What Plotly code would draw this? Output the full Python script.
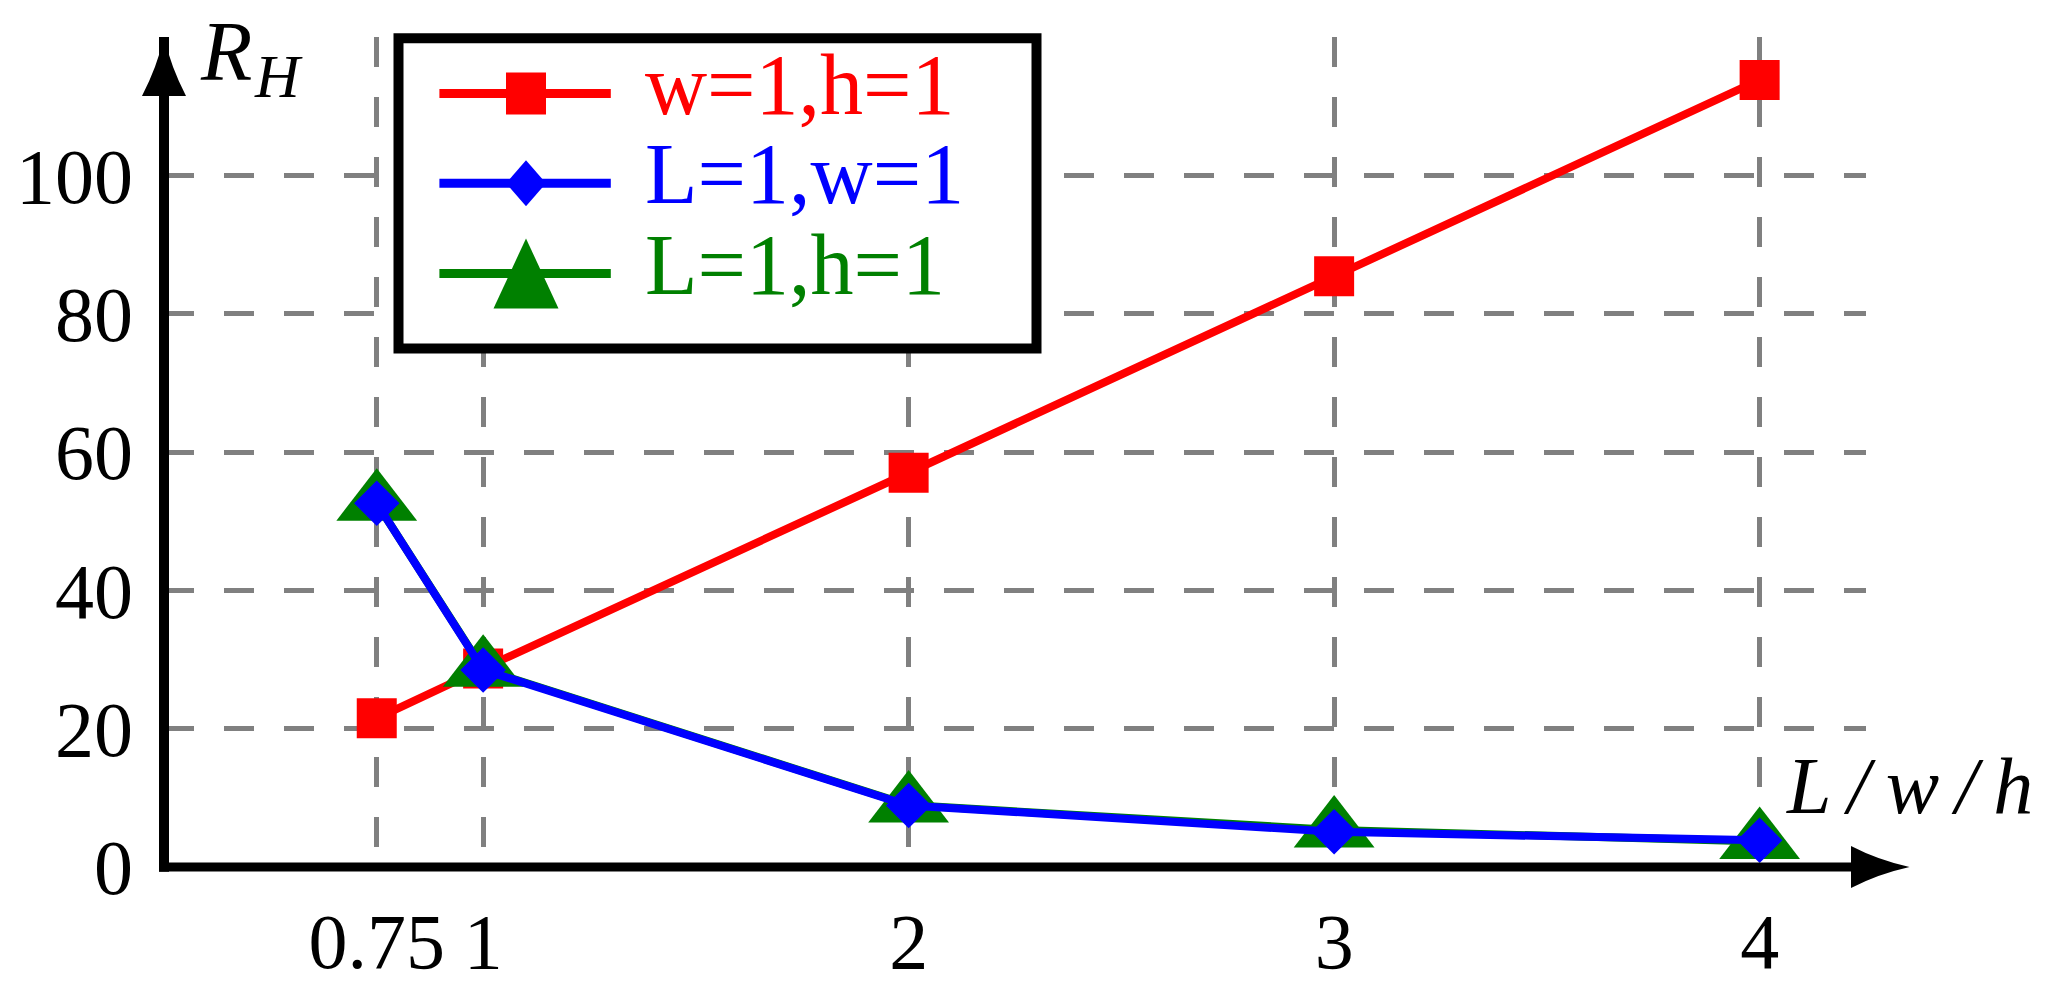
import plotly.graph_objects as go

# ---------------- data ----------------
x_vals = [0.75, 1, 2, 3, 4]
red_wh = [21.5, 28.7, 57.0, 85.4, 113.8]      # w=1,h=1
blue_Lw = [52.6, 28.5, 8.9, 5.1, 3.85]        # L=1,w=1
green_Lh = [52.6, 28.6, 8.95, 5.35, 3.7]      # L=1,h=1
series_names = ["w=1,h=1", "L=1,w=1", "L=1,h=1"]
x_tickvals = [0.75, 1, 2, 3, 4]
x_ticktext = ["0.75", "1", "2", "3", "4"]
y_tickvals = [0, 20, 40, 60, 80, 100]
y_ticktext = ["0", "20", "40", "60", "80", "100"]

RED, BLUE, GREEN = "#ff0000", "#0000ff", "#008000"
FONT = "Liberation Serif"

W, H = 2050, 997
L, R, T, B = 164, 184, 37, 107
pw = W - L - R
ph = H - T - B


def pxx(px):
    return (px - L) / pw


def pxy(py):
    return (H - B - py) / ph


fig = go.Figure()
LW = 8
fig.add_trace(go.Scatter(x=x_vals, y=red_wh, mode="lines+markers", name=series_names[0],
                         line=dict(color=RED, width=LW),
                         marker=dict(symbol="square", size=40, color=RED), cliponaxis=False))
fig.add_trace(go.Scatter(x=x_vals, y=green_Lh, mode="lines+markers", name=series_names[2],
                         line=dict(color=GREEN, width=LW),
                         marker=dict(symbol="triangle-up", size=70, color=GREEN), cliponaxis=False))
fig.add_trace(go.Scatter(x=x_vals, y=blue_Lw, mode="lines+markers", name=series_names[1],
                         line=dict(color=BLUE, width=LW),
                         marker=dict(symbol="diamond", size=35, color=BLUE), cliponaxis=False))

shapes = []
# axis lines
shapes.append(dict(type="line", xref="paper", yref="paper", x0=-5 / pw, x1=1.0, y0=0, y1=0,
                   line=dict(color="black", width=9), layer="above"))
shapes.append(dict(type="line", xref="paper", yref="paper", x0=0, x1=0, y0=-5 / ph, y1=1.0,
                   line=dict(color="black", width=10), layer="above"))
# arrow heads
shapes.append(dict(type="path", xref="paper", yref="paper", xsizemode="pixel", ysizemode="pixel",
                   xanchor=1.0, yanchor=0.0,
                   path="M43.5,0 Q12,7 -15,21 L-15,-21 Q12,-7 43.5,0 Z",
                   fillcolor="black", line=dict(width=0), layer="above"))
shapes.append(dict(type="path", xref="paper", yref="paper", xsizemode="pixel", ysizemode="pixel",
                   xanchor=0.0, yanchor=1.0,
                   path="M0,0 Q7,-30 22,-59 L-22,-59 Q-7,-30 0,0 Z",
                   fillcolor="black", line=dict(width=0), layer="above"))

# legend box
shapes.append(dict(type="rect", xref="paper", yref="paper",
                   x0=pxx(398.5), x1=pxx(1036.5), y0=pxy(357.2), y1=pxy(38.3),
                   line=dict(color="black", width=10), fillcolor="white", layer="above"))
rows = [95, 187.3, 280]
leg_colors = [RED, BLUE, GREEN]
for yy, c in zip(rows, leg_colors):
    shapes.append(dict(type="line", xref="paper", yref="paper",
                       x0=pxx(439.4), x1=pxx(610.8), y0=pxy(yy), y1=pxy(yy),
                       line=dict(color=c, width=9), layer="above"))
mx = pxx(526)
shapes.append(dict(type="rect", xref="paper", yref="paper", xsizemode="pixel", ysizemode="pixel",
                   xanchor=mx, yanchor=pxy(rows[0]), x0=-20, x1=20, y0=-21, y1=21,
                   fillcolor=RED, line=dict(width=0), layer="above"))
shapes.append(dict(type="path", xref="paper", yref="paper", xsizemode="pixel", ysizemode="pixel",
                   xanchor=mx, yanchor=pxy(rows[1]),
                   path="M0,23 L20,0 L0,-23 L-20,0 Z",
                   fillcolor=BLUE, line=dict(width=0), layer="above"))
shapes.append(dict(type="path", xref="paper", yref="paper", xsizemode="pixel", ysizemode="pixel",
                   xanchor=mx, yanchor=pxy(rows[2]),
                   path="M0,35 L32.5,-35 L-32.5,-35 Z",
                   fillcolor=GREEN, line=dict(width=0), layer="above"))

FS = 78
LFS = 86
annotations = []
leg_names = [series_names[0], series_names[1], series_names[2]]
for yy, c, name in zip(rows, leg_colors, leg_names):
    annotations.append(dict(xref="paper", yref="paper", x=pxx(643), y=pxy(yy + 20 - 0.3375 * LFS),
                            xanchor="left", yanchor="middle", showarrow=False, text=name,
                            font=dict(family=FONT, size=LFS, color=c)))
# axis labels
annotations.append(dict(xref="paper", yref="paper", x=pxx(198), y=pxy(80 - 0.3375 * 84),
                        xanchor="left", yanchor="middle", showarrow=False, text="<i>R</i>",
                        font=dict(family=FONT, size=84, color="black")))
annotations.append(dict(xref="paper", yref="paper", x=pxx(252), y=pxy(98 - 0.3375 * 62),
                        xanchor="left", yanchor="middle", showarrow=False, text="<i>H</i>",
                        font=dict(family=FONT, size=62, color="black")))
annotations.append(dict(xref="paper", yref="paper", x=pxx(1784), y=pxy(834 - 0.3375 * 80),
                        xanchor="left", yanchor="middle", showarrow=False,
                        text="<i>L\u2009/\u2009w\u2009/\u2009h</i>",
                        font=dict(family=FONT, size=80, color="black")))

grid = dict(showgrid=True, gridcolor="#808080", gridwidth=5, griddash="30px,30px",
            zeroline=False, showline=False, ticks="", ticklen=0,
            tickfont=dict(family=FONT, size=FS, color="black"))

fig.update_layout(
    width=W, height=H,
    margin=dict(l=L, r=R, t=T, b=B, pad=0),
    paper_bgcolor="white", plot_bgcolor="white",
    showlegend=False,
    shapes=shapes, annotations=annotations,
    xaxis=dict(range=[0.25, 4.25], tickmode="array", tickvals=x_tickvals, ticktext=x_ticktext,
               ticklabelstandoff=22, **grid),
    yaxis=dict(range=[0, 120], tickmode="array", tickvals=y_tickvals, ticktext=y_ticktext,
               ticklabelstandoff=30, **grid),
)

fig.write_html("out.html", config={"displayModeBar": False},
               post_script="document.body.style.margin='0';document.body.style.overflow='hidden';")
